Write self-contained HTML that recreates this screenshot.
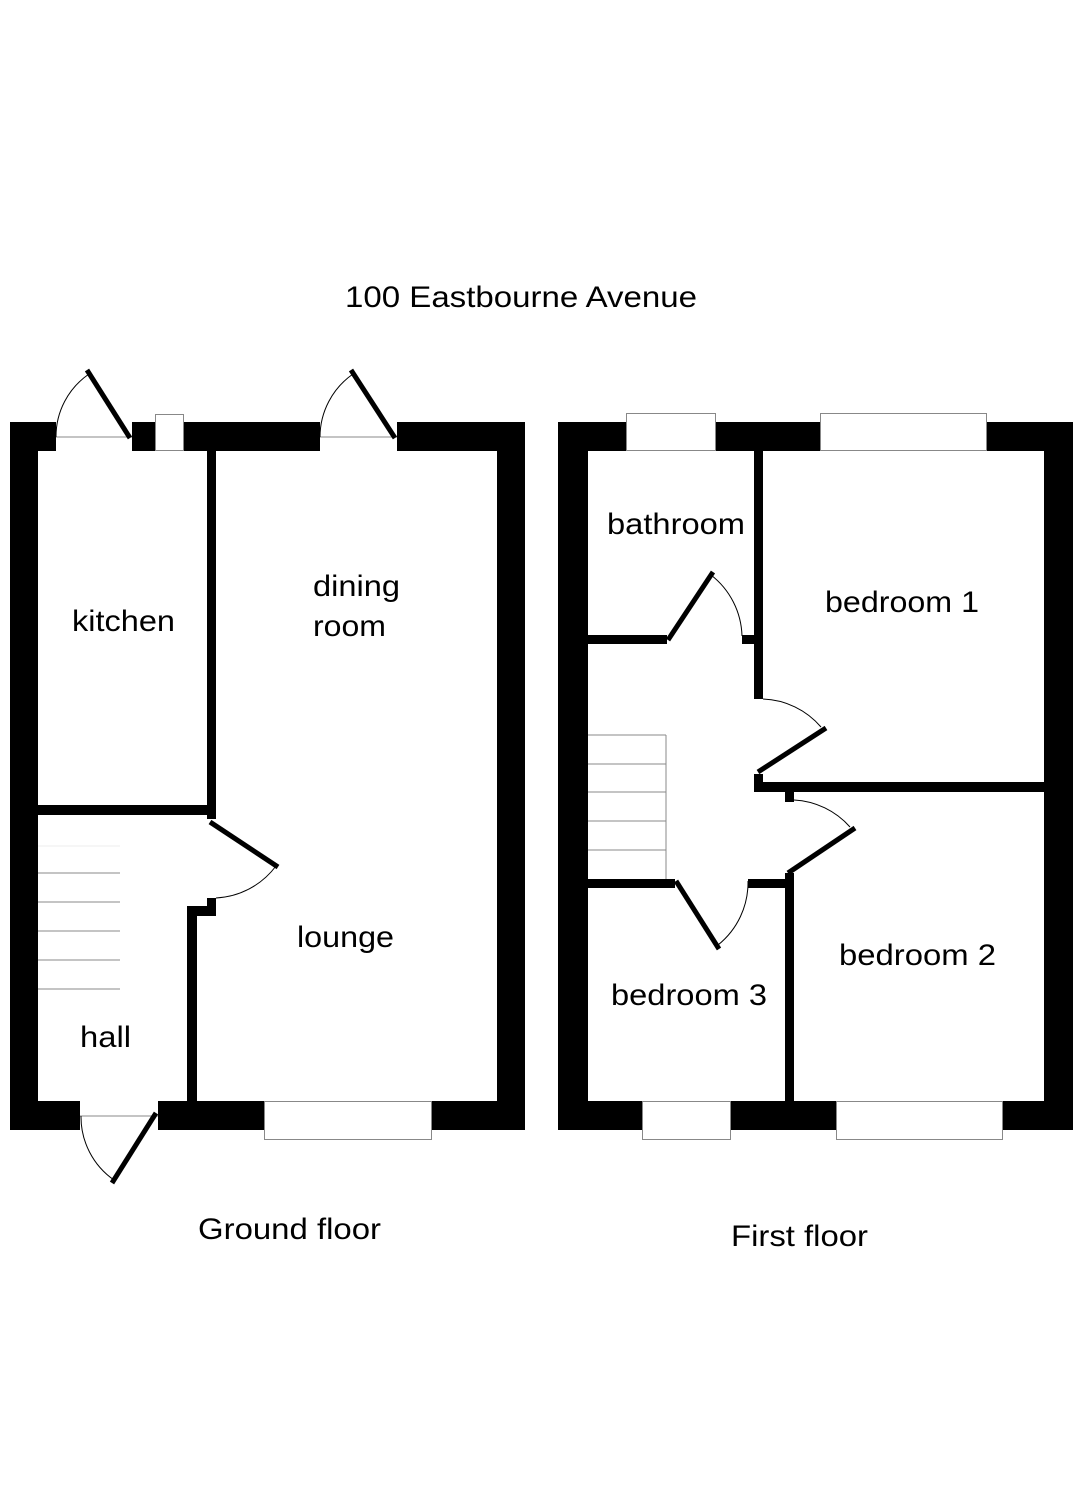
<!DOCTYPE html>
<html><head><meta charset="utf-8"><style>
html,body{margin:0;padding:0;background:#fff;}
svg{display:block;}
text{font-family:"Liberation Sans",Arial,sans-serif;fill:#000;}
</style></head><body>
<svg width="1080" height="1500" viewBox="0 0 1080 1500" xmlns="http://www.w3.org/2000/svg">
<rect width="1080" height="1500" fill="#fff"/>
<text x="345" y="307" font-size="30" textLength="352" lengthAdjust="spacingAndGlyphs">100 Eastbourne Avenue</text>

<!-- GROUND FLOOR -->
<g fill="#000">
  <rect x="10" y="422" width="28" height="708"/>
  <rect x="497" y="422" width="28" height="708"/>
  <rect x="10" y="422" width="46" height="29"/>
  <rect x="132" y="422" width="23" height="29"/>
  <rect x="184" y="422" width="136" height="29"/>
  <rect x="397" y="422" width="128" height="29"/>
  <rect x="10" y="1101" width="70" height="29"/>
  <rect x="158" y="1101" width="106" height="29"/>
  <rect x="432" y="1101" width="93" height="29"/>
  <rect x="207" y="451" width="9" height="368"/>
  <rect x="38" y="805" width="178" height="10"/>
  <rect x="187" y="906" width="10" height="195"/>
  <rect x="187" y="906" width="29" height="10"/>
  <rect x="207" y="898" width="9" height="18"/>
</g>
<g fill="#fff" stroke="#888" stroke-width="1">
  <rect x="155.5" y="414.5" width="28" height="36"/>
  <rect x="264.5" y="1101.5" width="167" height="38"/>
</g>
<g stroke="#888" stroke-width="1">
  <line x1="56" y1="437" x2="132" y2="437"/>
  <line x1="320" y1="437" x2="397" y2="437"/>
  <line x1="80" y1="1116" x2="158" y2="1116"/>
  <line x1="38" y1="846" x2="120" y2="846" stroke="#eee"/>
  <line x1="38" y1="873" x2="120" y2="873"/>
  <line x1="38" y1="902" x2="120" y2="902"/>
  <line x1="38" y1="931" x2="120" y2="931"/>
  <line x1="38" y1="960" x2="120" y2="960"/>
  <line x1="38" y1="989" x2="120" y2="989"/>
</g>
<g stroke="#000" stroke-width="5" fill="none">
  <line x1="130" y1="438" x2="87" y2="370"/>
  <line x1="395" y1="438" x2="351" y2="370"/>
  <line x1="210" y1="822" x2="278" y2="867"/>
  <line x1="156" y1="1113" x2="112" y2="1183"/>
</g>
<g stroke="#000" stroke-width="1" fill="none">
  <path d="M56 437 A76 76 0 0 1 89 374"/>
  <path d="M320 437 A77 77 0 0 1 353 374"/>
  <path d="M276 866 A80 80 0 0 1 216 898"/>
  <path d="M81 1116 A77 77 0 0 0 114 1180"/>
</g>
<g font-size="30">
<text x="72" y="631" textLength="103" lengthAdjust="spacingAndGlyphs">kitchen</text>
<text x="313" y="596" textLength="87" lengthAdjust="spacingAndGlyphs">dining</text>
<text x="313" y="636" textLength="73" lengthAdjust="spacingAndGlyphs">room</text>
<text x="297" y="947" textLength="97" lengthAdjust="spacingAndGlyphs">lounge</text>
<text x="80" y="1047" textLength="51" lengthAdjust="spacingAndGlyphs">hall</text>
<text x="198" y="1239" textLength="183" lengthAdjust="spacingAndGlyphs">Ground floor</text>
</g>

<!-- FIRST FLOOR -->
<g fill="#000">
  <rect x="558" y="422" width="30" height="708"/>
  <rect x="1044" y="422" width="29" height="708"/>
  <rect x="558" y="422" width="68" height="29"/>
  <rect x="716" y="422" width="104" height="29"/>
  <rect x="987" y="422" width="86" height="29"/>
  <rect x="558" y="1101" width="84" height="29"/>
  <rect x="730" y="1101" width="106" height="29"/>
  <rect x="1002" y="1101" width="71" height="29"/>
  <rect x="754" y="451" width="9" height="248"/>
  <rect x="588" y="635" width="79" height="9"/>
  <rect x="742" y="635" width="21" height="9"/>
  <rect x="754" y="774" width="9" height="18"/>
  <rect x="754" y="782" width="290" height="10"/>
  <rect x="785" y="792" width="9" height="10"/>
  <rect x="785" y="873" width="9" height="228"/>
  <rect x="588" y="879" width="87" height="9"/>
  <rect x="748" y="879" width="46" height="9"/>
</g>
<g fill="#fff" stroke="#888" stroke-width="1">
  <rect x="626.5" y="413.5" width="89" height="37"/>
  <rect x="820.5" y="413.5" width="166" height="37"/>
  <rect x="642.5" y="1101.5" width="88" height="38"/>
  <rect x="836.5" y="1101.5" width="166" height="38"/>
</g>
<g stroke="#888" stroke-width="1">
  <line x1="588" y1="735" x2="666" y2="735"/>
  <line x1="588" y1="764" x2="666" y2="764"/>
  <line x1="588" y1="792" x2="666" y2="792"/>
  <line x1="588" y1="821" x2="666" y2="821"/>
  <line x1="588" y1="850" x2="666" y2="850"/>
  <line x1="666" y1="735" x2="666" y2="879"/>
</g>
<g stroke="#000" stroke-width="5" fill="none">
  <line x1="668" y1="640" x2="713" y2="572"/>
  <line x1="758" y1="772" x2="826" y2="728"/>
  <line x1="788" y1="873" x2="855" y2="828"/>
  <line x1="676" y1="881" x2="719" y2="949"/>
</g>
<g stroke="#000" stroke-width="1" fill="none">
  <path d="M711 575 A80 80 0 0 1 742 636"/>
  <path d="M763 699 A80 80 0 0 1 821 727"/>
  <path d="M794 800 A80 80 0 0 1 850 827"/>
  <path d="M718 945 A80 80 0 0 0 748 881"/>
</g>
<g font-size="30">
<text x="607" y="534" textLength="138" lengthAdjust="spacingAndGlyphs">bathroom</text>
<text x="825" y="612" textLength="154" lengthAdjust="spacingAndGlyphs">bedroom 1</text>
<text x="839" y="965" textLength="157" lengthAdjust="spacingAndGlyphs">bedroom 2</text>
<text x="611" y="1005" textLength="156" lengthAdjust="spacingAndGlyphs">bedroom 3</text>
<text x="731" y="1246" textLength="137" lengthAdjust="spacingAndGlyphs">First floor</text>
</g>
</svg>
</body></html>
